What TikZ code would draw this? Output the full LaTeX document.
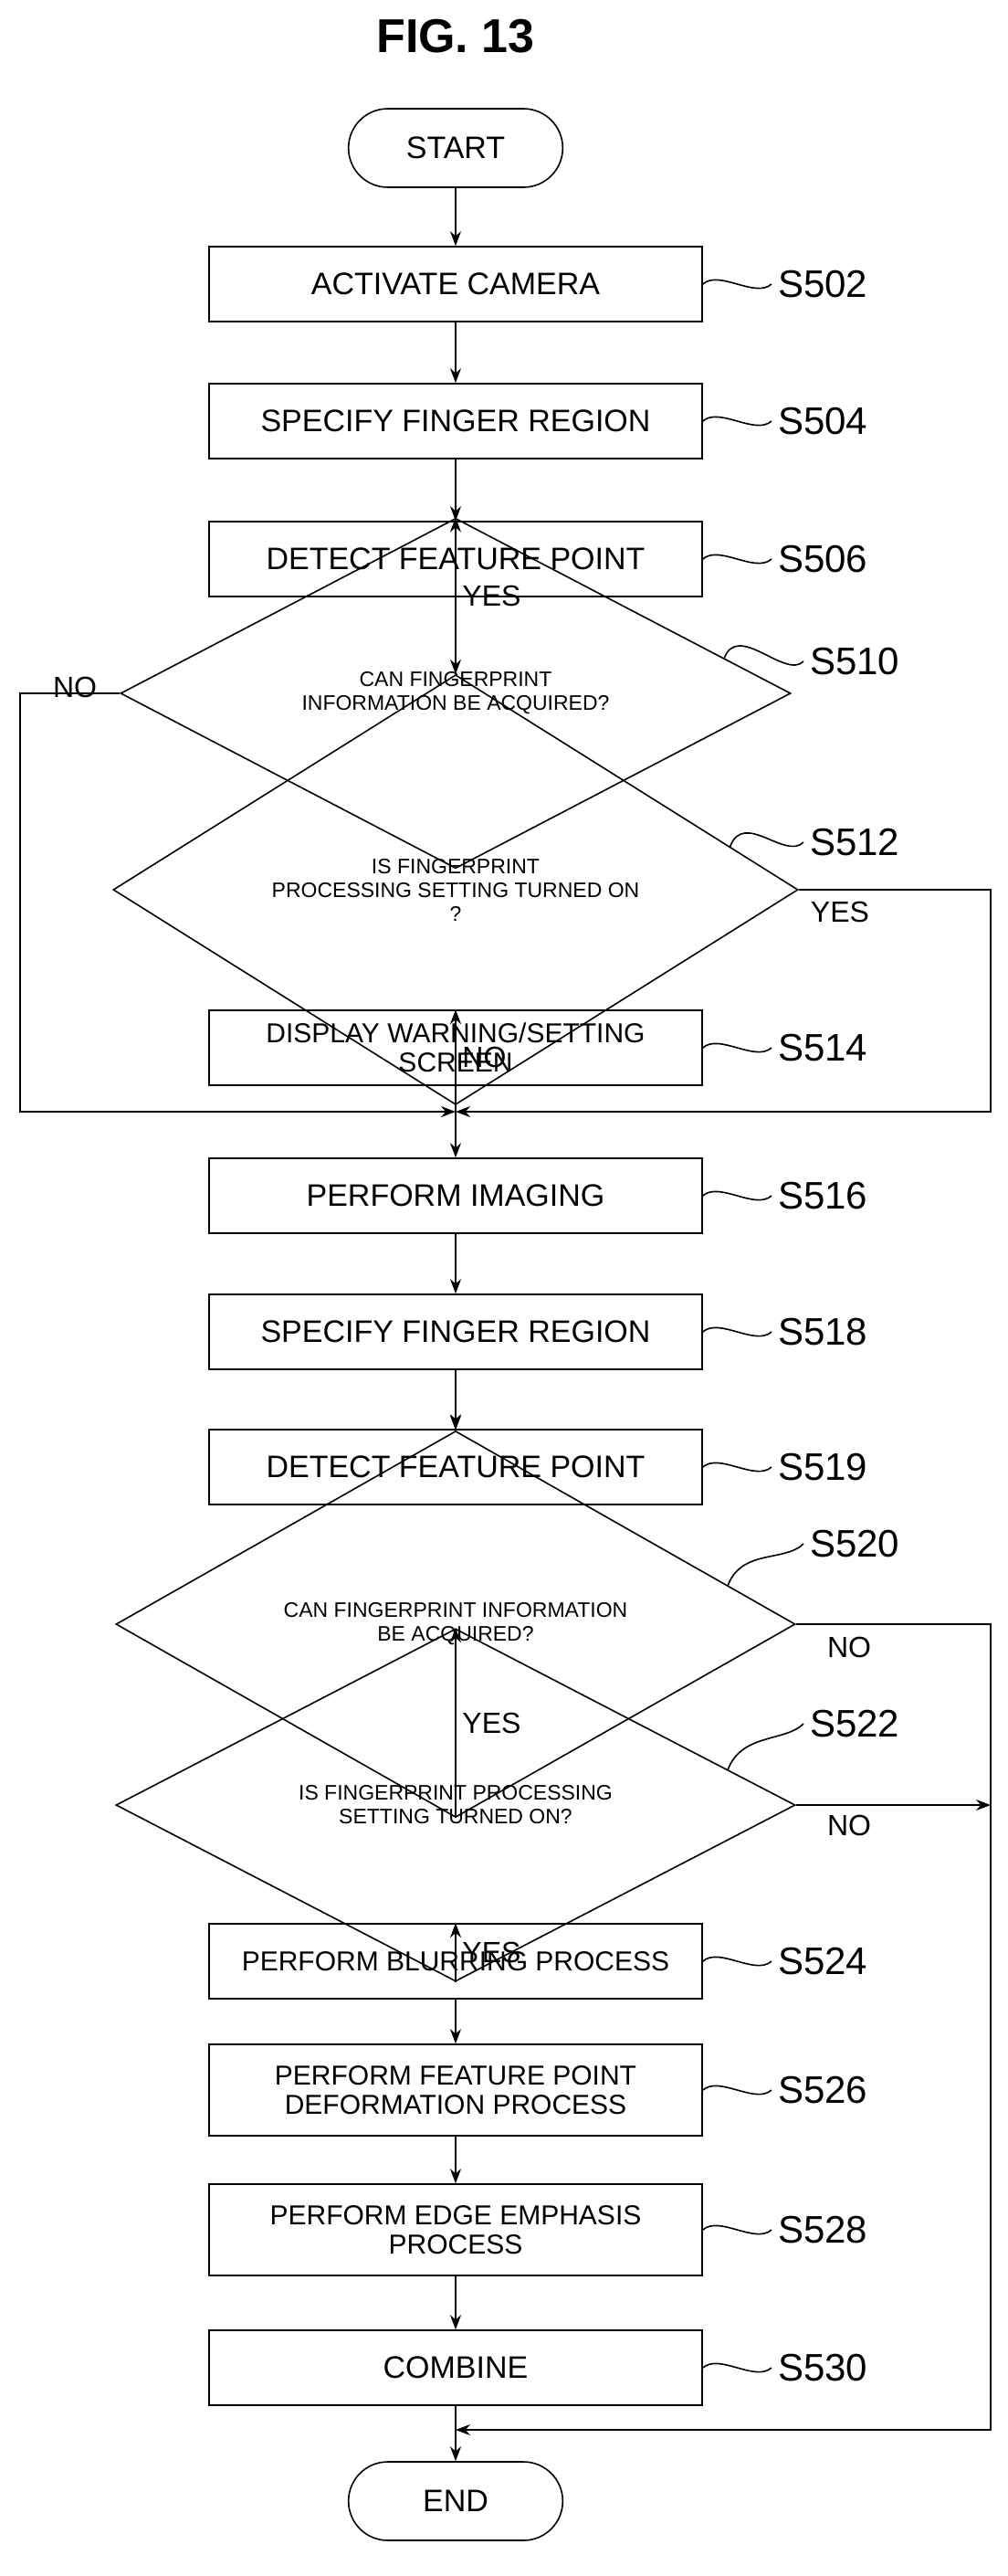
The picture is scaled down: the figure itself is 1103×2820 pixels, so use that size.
\documentclass[tikz,border=0pt]{standalone}
\usepackage{fontspec}
\setmainfont{Liberation Sans}
\usetikzlibrary{shapes.geometric, shapes.misc, arrows.meta, calc}

\tikzset{
  box/.style={draw, thick, minimum width=270pt, minimum height=41pt, align=center, font=\fontsize{17}{19}\selectfont, inner sep=2pt},
  term/.style={draw, thick, rounded rectangle, minimum width=124pt, minimum height=43pt, font=\fontsize{17}{19}\selectfont},
  dia/.style={draw, thick, diamond, inner sep=0pt, align=center, font=\fontsize{11.5}{13}\selectfont},
  flow/.style={thick, -{Stealth[length=8pt, width=6pt]}},
  lnk/.style={thick},
  stepno/.style={font=\fontsize{21}{23}\selectfont, anchor=west},
  ans/.style={font=\fontsize{16}{18}\selectfont}
}

\begin{document}
\begin{tikzpicture}[x=0.5pt, y=-0.5pt]
    \useasboundingbox (0,0) rectangle (1103,2820);

    % Titel
    \node[font=\bfseries\fontsize{26}{28}\selectfont] (title) at (499,40) {FIG. 13};

    % Schritte oben
    \node[term] (start) at (499,162) {START};
    \node[box] (s502) at (499,311) {ACTIVATE CAMERA};
    \node[box] (s504) at (499,461) {SPECIFY FINGER REGION};
    \node[box] (s506) at (499,612) {DETECT FEATURE POINT};
    \node[dia, minimum width=367pt, minimum height=84pt] (d510) at (499,759) {CAN FINGERPRINT\\INFORMATION BE ACQUIRED?};
    \node[dia, minimum width=375pt, minimum height=65pt] (d512) at (499,974) {IS FINGERPRINT\\PROCESSING SETTING TURNED ON\\?};
    \node[box, font=\fontsize{15}{16}\selectfont] (s514) at (499,1147) {DISPLAY WARNING/SETTING\\SCREEN};
    \coordinate (m1) at (499,1217);

    % Schritte unten
    \node[box] (s516) at (499,1309) {PERFORM IMAGING};
    \node[box] (s518) at (499,1458) {SPECIFY FINGER REGION};
    \node[box] (s519) at (499,1606) {DETECT FEATURE POINT};
    \node[dia, minimum width=372pt, minimum height=67pt] (d520) at (499,1778) {CAN FINGERPRINT INFORMATION\\BE ACQUIRED?};
    \node[dia, minimum width=372pt, minimum height=67pt] (d522) at (499,1976) {IS FINGERPRINT PROCESSING\\SETTING TURNED ON?};
    \node[box, font=\fontsize{15}{16}\selectfont] (s524) at (499,2147) {PERFORM BLURRING PROCESS};
    \node[box, font=\fontsize{15}{16}\selectfont, minimum height=50pt] (s526) at (499,2288) {PERFORM FEATURE POINT\\DEFORMATION PROCESS};
    \node[box, font=\fontsize{15}{16}\selectfont, minimum height=50pt] (s528) at (499,2441) {PERFORM EDGE EMPHASIS\\PROCESS};
    \node[box] (s530) at (499,2592) {COMBINE};
    \coordinate (m2) at (499,2660);
    \node[term] (end) at (499,2738) {END};

    % Eckpunkte
    \coordinate (cl) at (22,759);
    \coordinate (cr) at (1085,974);
    \coordinate (cr2) at (1085,1778);
    \coordinate (cr3) at (1085,1976);

    % Pfeile
    \draw[flow] (start) -- (s502);
    \draw[flow] (s502) -- (s504);
    \draw[flow] (s504) -- (s506);
    \draw[flow] (s506) -- (d510);
    \draw[flow] (d510) -- node[ans, right] {YES} (d512);
    \draw[flow] (d512) -- node[ans, right] {NO} (s514);
    \draw[lnk] (s514) -- (m1);
    \draw[flow] (d510.west) -- (cl) -- (cl |- m1) -- (m1);
    \draw[flow] (d512.east) -- (cr) -- (cr |- m1) -- (m1);
    \draw[flow] (m1) -- (s516);
    \draw[flow] (s516) -- (s518);
    \draw[flow] (s518) -- (s519);
    \draw[flow] (s519) -- (d520);
    \draw[flow] (d520) -- node[ans, right] {YES} (d522);
    \draw[flow] (d522) -- node[ans, right] {YES} (s524);
    \draw[flow] (s524) -- (s526);
    \draw[flow] (s526) -- (s528);
    \draw[flow] (s528) -- (s530);
    \draw[lnk] (s530) -- (m2);
    \draw[flow] (d520.east) -- (cr2) -- (cr2 |- m2) -- (m2);
    \draw[flow] (d522.east) -- (cr3);
    \draw[flow] (m2) -- (end);

    % Antworten
    \node[ans] (no510) at (82,752) {NO};
    \node[ans] (yes512) at (920,998) {YES};
    \node[ans] (no520) at (930,1803) {NO};
    \node[ans] (no522) at (930,1998) {NO};

    % Schrittnummern
    \foreach \n/\y in {502/311, 504/461, 506/612, 514/1147, 516/1309, 518/1458, 519/1606, 524/2147, 526/2288, 528/2441, 530/2592}{
        \node[stepno] (l\n) at (845,\y) {S\n};
        \draw[thick] (s\n.east) .. controls +(18,-16) and +(-18,16) .. (l\n.west);
    }
    \foreach \n/\y in {510/724, 512/922, 520/1690, 522/1887}{
        \node[stepno] (l\n) at (880,\y) {S\n};
        \draw[thick] ($(d\n.north)!0.8!(d\n.east)$) .. controls +(15,-40) and +(-20,20) .. (l\n.west);
    }
\end{tikzpicture}
\end{document}
